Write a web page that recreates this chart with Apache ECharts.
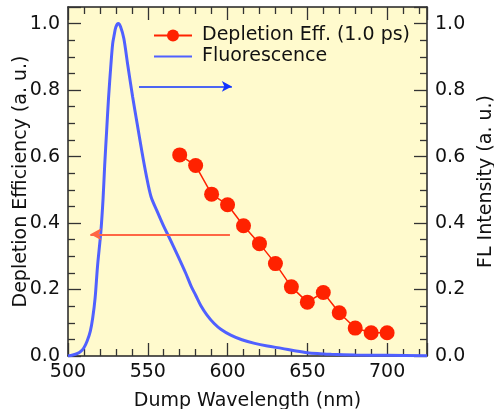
<!DOCTYPE html>
<html>
<head>
<meta charset="utf-8">
<script src="https://cdn.jsdelivr.net/npm/echarts@6/dist/echarts.min.js"></script>
<style>
  html, body { margin: 0; padding: 0; background: #fff; }
  #main { width: 494px; height: 409px; }
</style>
</head>
<body>
<div id="main"></div>
<script>
// depletion efficiency (red dots)
var dumpWl = [570, 580, 590, 600, 610, 620, 630, 640, 650, 660, 670, 680, 690, 700];
var depletion = [0.605, 0.573, 0.487, 0.455, 0.392, 0.338, 0.278, 0.208, 0.162, 0.191, 0.130, 0.084, 0.070, 0.070];

// fluorescence spectrum (blue line)
var flWl = [500, 503, 506, 508, 510, 512, 514, 515.5, 517, 518.5, 520.6, 522, 523, 524.2, 525.4, 526.9, 528, 529, 530, 531.5,
            533, 535, 537.4, 540.5, 543.3, 546.5, 549, 552, 555.9, 560.1, 563.9, 568.5, 573.8, 577, 580.1, 583.2, 587,
            591.6, 596, 602, 609, 617, 625, 634, 642, 650, 658, 665, 680, 700, 725];
var flInt = [0.0, 0.003, 0.008, 0.014, 0.025, 0.045, 0.075, 0.115, 0.175, 0.27, 0.374, 0.475, 0.575, 0.676, 0.776, 0.877, 0.94, 0.967, 0.99, 1.0,
             0.99, 0.955, 0.877, 0.78, 0.70, 0.61, 0.545, 0.48, 0.435, 0.389, 0.352, 0.305, 0.249, 0.212, 0.182, 0.152, 0.124,
             0.098, 0.08, 0.063, 0.049, 0.038, 0.03, 0.023, 0.016, 0.01, 0.007, 0.005, 0.003, 0.002, 0.001];

// arrows pointing to their axes
var blueArrow = [[544.5, 0.811], [602.7, 0.811]];
var redArrow = [[601.5, 0.366], [514, 0.366]];

var FONT = 'DejaVu Sans';
var chart = echarts.init(document.getElementById('main'));

function pairs(xs, ys) {
  return xs.map(function (x, i) { return [x, ys[i]]; });
}

var axisLineStyle = { color: '#222', width: 1.5 };
var tickStyle = { color: '#333', width: 1.3 };

function yAxisCfg(pos, title, gap) {
  return {
    type: 'value', position: pos, min: 0, max: 1.05, interval: 0.2,
    name: title, nameLocation: 'middle', nameGap: gap, nameRotate: 90, nameMoveOverlap: false,
    nameTextStyle: { fontFamily: FONT, fontSize: 19, color: '#111' },
    axisLine: { show: true, lineStyle: axisLineStyle },
    axisTick: { show: true, inside: true, length: 13, lineStyle: tickStyle },
    minorTick: { show: true, splitNumber: 4, length: 7, lineStyle: tickStyle },
    axisLabel: {
      fontFamily: FONT, fontSize: 19, color: '#111', margin: 8, showMaxLabel: false,
      formatter: function (v) { return v.toFixed(1); }
    },
    splitLine: { show: false }
  };
}

var option = {
  backgroundColor: '#ffffff',
  animation: false,
  grid: {
    left: 68, right: 67, top: 7, bottom: 53, outerBoundsMode: 'none', containLabel: false,
    show: true, backgroundColor: '#fffacd', borderWidth: 0
  },
  legend: {
    orient: 'vertical', left: 148, top: 21, itemWidth: 38, itemHeight: 15, itemGap: 2,
    textStyle: { fontFamily: FONT, fontSize: 19, color: '#111', padding: [0, 0, 0, 5] },
    data: [
      { name: 'Depletion Eff. (1.0 ps)' },
      { name: 'Fluorescence', itemStyle: { color: 'rgba(0,0,0,0)', borderColor: 'rgba(0,0,0,0)' } }
    ]
  },
  xAxis: [{
    type: 'value', min: 500, max: 725, interval: 50,
    name: 'Dump Wavelength (nm)', nameLocation: 'middle', nameGap: 36, nameMoveOverlap: false,
    nameTextStyle: { fontFamily: FONT, fontSize: 19, color: '#111' },
    axisLine: { show: true, onZero: false, lineStyle: axisLineStyle },
    axisTick: { show: true, inside: true, length: 13, lineStyle: tickStyle },
    minorTick: { show: true, splitNumber: 5, length: 7, lineStyle: tickStyle },
    axisLabel: { fontFamily: FONT, fontSize: 19, color: '#111', margin: 7, showMaxLabel: false },
    splitLine: { show: false }
  }, {
    type: 'value', position: 'top', min: 500, max: 725, interval: 50,
    axisLine: { show: true, onZero: false, lineStyle: axisLineStyle },
    axisTick: { show: true, inside: true, length: 13, lineStyle: tickStyle },
    minorTick: { show: true, splitNumber: 5, length: 7, lineStyle: tickStyle },
    axisLabel: { show: false },
    splitLine: { show: false }
  }],
  yAxis: [
    yAxisCfg('left', 'Depletion Efficiency (a. u.)', 37),
    yAxisCfg('right', 'FL Intensity (a. u.)', 50)
  ],
  series: [{
    name: 'Depletion Eff. (1.0 ps)', type: 'line', xAxisIndex: 0, yAxisIndex: 0,
    data: pairs(dumpWl, depletion),
    symbol: 'circle', symbolSize: 15,
    itemStyle: { color: '#ff2200' },
    lineStyle: { color: '#ff2200', width: 1.5 },
    z: 4,
    markLine: {
      silent: true, symbol: ['none', 'arrow'], symbolSize: [9, 11],
      label: { show: false },
      lineStyle: { color: '#ff6644', width: 2, type: 'solid' },
      data: [[{ coord: redArrow[0] }, { coord: redArrow[1] }]]
    }
  }, {
    name: 'Fluorescence', type: 'line', xAxisIndex: 0, yAxisIndex: 1,
    data: pairs(flWl, flInt),
    symbol: 'none', smooth: 0.3,
    itemStyle: { color: '#5060ff' },
    lineStyle: { color: '#5060ff', width: 3 },
    z: 3,
    markLine: {
      silent: true, symbol: ['none', 'arrow'], symbolSize: [8, 10],
      label: { show: false },
      lineStyle: { color: '#1133ff', width: 1.5, type: 'solid' },
      data: [[{ coord: blueArrow[0] }, { coord: blueArrow[1] }]]
    }
  }]
};

chart.setOption(option);
</script>
</body>
</html>
